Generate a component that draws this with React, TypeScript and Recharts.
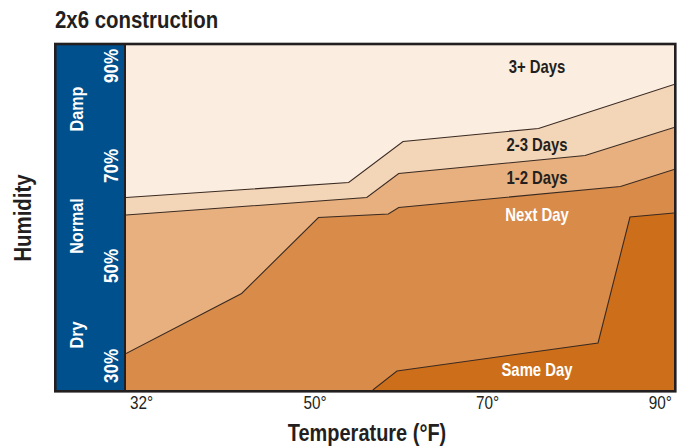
import React from 'react';
import { ComposedChart, Area, XAxis, YAxis, CartesianGrid } from 'recharts';

// boundary lines: temperature (°F) -> humidity (%) where each drying zone ends
const twoToThreeDays = [
  { t: 28.1, h: 63.7 },
  { t: 53.9, h: 66.7 },
  { t: 60.2, h: 74.9 },
  { t: 75.9, h: 77.5 },
  { t: 91.6, h: 86.3 },
];

const oneToTwoDays = [
  { t: 28.1, h: 60.2 },
  { t: 56.0, h: 63.7 },
  { t: 59.7, h: 68.5 },
  { t: 81.3, h: 72.1 },
  { t: 91.6, h: 77.7 },
];

const nextDay = [
  { t: 28.1, h: 32.5 },
  { t: 41.5, h: 44.5 },
  { t: 50.4, h: 59.7 },
  { t: 58.5, h: 60.4 },
  { t: 59.7, h: 61.7 },
  { t: 85.4, h: 65.9 },
  { t: 91.6, h: 69.3 },
];

const sameDay = [
  { t: 56.7, h: 25.2 },
  { t: 59.5, h: 29.0 },
  { t: 82.8, h: 34.6 },
  { t: 86.5, h: 59.8 },
  { t: 91.6, h: 60.6 },
];

const xTicks = [32, 50, 70, 90];
const yTicks = [30, 50, 70, 90];
const zoneLabels = ['3+ Days', '2-3 Days', '1-2 Days', 'Next Day', 'Same Day'];
const bandLabels = ['Dry', 'Normal', 'Damp'];

const X_DOMAIN = [28.1, 91.6];
const Y_DOMAIN = [25.2, 94.2];

const FONT = "'Liberation Sans', Arial, sans-serif";
const DARK = '#231F20';
const BLUE = '#00508E';
const LINE = '#3A2A22';

const series = [
  { key: 'd23', points: twoToThreeDays, fill: '#F3D5B8' },
  { key: 'd12', points: oneToTwoDays, fill: '#E7B07E' },
  { key: 'next', points: nextDay, fill: '#D98B4A' },
  { key: 'same', points: sameDay, fill: '#CD6F1A' },
];

const table = Array.from(new Set(series.flatMap((s) => s.points.map((p) => p.t))))
  .sort((a, b) => a - b)
  .map((t) => {
    const row: any = { t };
    series.forEach((s) => {
      const p = s.points.find((q) => q.t === t);
      row[s.key] = p ? p.h : null;
    });
    return row;
  });

// condensed-looking text: squeeze Liberation Sans along its baseline
const Cond = ({ x, y, rot = 0, size, bold = true, fill = DARK, anchor = 'middle', children }: any) => (
  <g transform={`translate(${x}, ${y}) rotate(${rot}) scale(0.85, 1)`}>
    <text x={0} y={0} textAnchor={anchor} fontFamily={FONT} fontWeight={bold ? 'bold' : 'normal'} fontSize={size} fill={fill}>
      {children}
    </text>
  </g>
);

const XTick = ({ x, y, payload }: any) => {
  // the first label sits against the left edge in the original
  const dx = payload.value === 32 ? -18 : 0;
  return (
    <Cond x={x + dx} y={y + 19} size={18} bold={false}>
      {payload.value}°
    </Cond>
  );
};

const YTick = ({ x, y, payload }: any) => (
  <Cond x={x - 8} y={y} rot={-90} size={20} fill="#fff">
    {payload.value}%
  </Cond>
);

const zonePos = [
  { y: 73, fill: DARK },
  { y: 150.5, fill: DARK },
  { y: 183.5, fill: DARK },
  { y: 220.5, fill: '#fff' },
  { y: 375.5, fill: '#fff' },
];

const bandPos = [335, 226, 109];

const App = () => {
  return (
    <div style={{ position: 'absolute', left: 0, top: 0, width: 682, height: 448, background: '#fff' }}>
      <svg width={682} height={448} style={{ position: 'absolute', left: 0, top: 0 }}>
        <rect x={56} y={44} width={70} height={347} fill={BLUE} />
      </svg>
      <div style={{ position: 'absolute', left: 0, top: 0 }}>
        <ComposedChart width={682} height={448} data={table} margin={{ top: 45, right: 8, bottom: 28, left: 56 }}>
          <CartesianGrid horizontal={false} vertical={false} fill="#FBEDE0" />
          <XAxis
            dataKey="t"
            type="number"
            domain={X_DOMAIN}
            allowDataOverflow
            ticks={xTicks}
            interval={0}
            height={30}
            axisLine={false}
            tickLine={false}
            tickSize={0}
            tickMargin={0}
            tick={<XTick />}
          />
          <YAxis
            type="number"
            domain={Y_DOMAIN}
            allowDataOverflow
            ticks={yTicks}
            interval={0}
            width={70}
            axisLine={false}
            tickLine={false}
            tickSize={0}
            tickMargin={0}
            tick={<YTick />}
          />
          {series.map((s) => (
            <Area
              key={s.key}
              dataKey={s.key}
              type="linear"
              baseValue={Y_DOMAIN[0]}
              connectNulls
              fill={s.fill}
              fillOpacity={1}
              stroke={LINE}
              strokeWidth={1.1}
              dot={false}
              activeDot={false}
              isAnimationActive={false}
            />
          ))}
        </ComposedChart>
      </div>
      <svg width={682} height={448} style={{ position: 'absolute', left: 0, top: 0, pointerEvents: 'none' }}>
        <rect x={55.3} y={44} width={620} height={347.3} fill="none" stroke={DARK} strokeWidth={2.6} />
        <line x1={125} y1={44} x2={125} y2={391} stroke={DARK} strokeWidth={2} />
        <Cond x={55} y={28} size={24} anchor="start">
          2x6 construction
        </Cond>
        <Cond x={31} y={218} rot={-90} size={24}>
          Humidity
        </Cond>
        <Cond x={367} y={441} size={23.5}>
          Temperature (°F)
        </Cond>
        {bandLabels.map((label, i) => (
          <Cond key={label} x={83} y={bandPos[i]} rot={-90} size={19} fill="#fff">
            {label}
          </Cond>
        ))}
        {zoneLabels.map((label, i) => (
          <Cond key={label} x={537} y={zonePos[i].y} size={17.5} fill={zonePos[i].fill}>
            {label}
          </Cond>
        ))}
      </svg>
    </div>
  );
};

export default App;
